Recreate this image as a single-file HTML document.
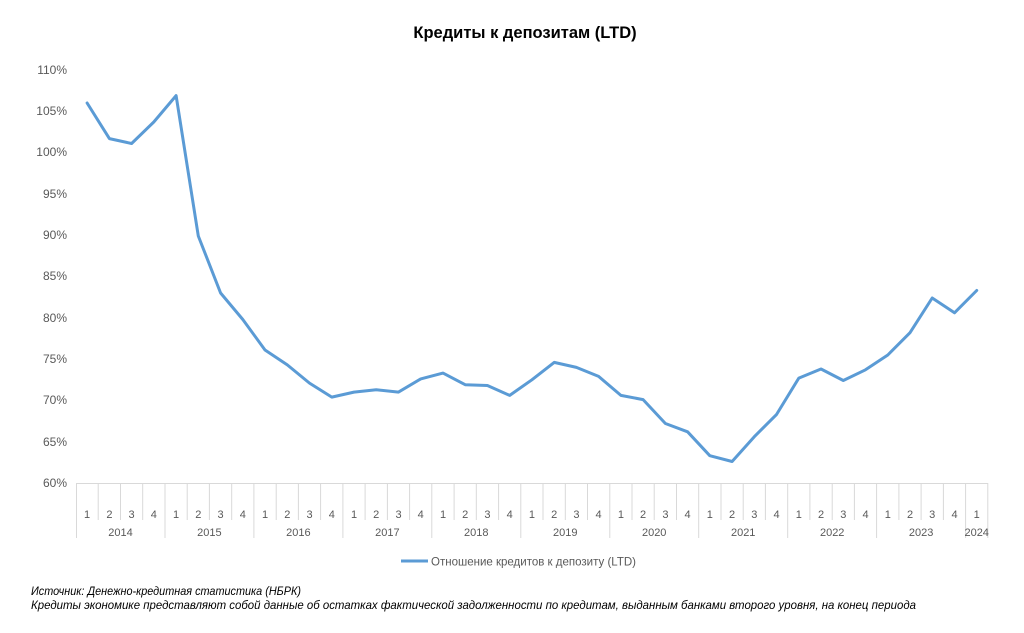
<!DOCTYPE html>
<html><head><meta charset="utf-8"><style>
body{margin:0;background:#fff;}
svg{display:block;font-family:"Liberation Sans",sans-serif;}
</style></head><body>
<svg width="1024" height="633" viewBox="0 0 1024 633">
<text x="525" y="38" text-anchor="middle" font-size="16.5" font-weight="bold" fill="#000">Кредиты к депозитам (LTD)</text>
<g font-size="12" fill="#595959" text-anchor="end">
<text x="67" y="74">110%</text><text x="67" y="115">105%</text><text x="67" y="156">100%</text>
<text x="67" y="198">95%</text><text x="67" y="239">90%</text><text x="67" y="280">85%</text>
<text x="67" y="322">80%</text><text x="67" y="363">75%</text><text x="67" y="404">70%</text>
<text x="67" y="446">65%</text><text x="67" y="487">60%</text>
</g>
<g stroke="#d9d9d9" stroke-width="1" fill="none">
<line x1="76" y1="483.5" x2="988" y2="483.5"/>
<path d="M98.2 483V520M120.5 483V520M142.7 483V520M187.2 483V520M209.4 483V520M231.7 483V520M276.2 483V520M298.4 483V520M320.6 483V520M365.1 483V520M387.4 483V520M409.6 483V520M454.1 483V520M476.3 483V520M498.6 483V520M543 483V520M565.3 483V520M587.5 483V520M632 483V520M654.2 483V520M676.5 483V520M721 483V520M743.2 483V520M765.4 483V520M809.9 483V520M832.2 483V520M854.4 483V520M898.9 483V520M921.1 483V520M943.4 483V520"/>
<path d="M76.5 483V538M165 483V538M253.9 483V538M342.9 483V538M431.8 483V538M520.8 483V538M609.8 483V538M698.7 483V538M787.7 483V538M876.6 483V538M965.6 483V538M987.8 483V538"/>
</g>
<g font-size="11" fill="#595959" text-anchor="middle">
<text x="87.1" y="518">1</text><text x="109.4" y="518">2</text><text x="131.6" y="518">3</text><text x="153.8" y="518">4</text>
<text x="176.1" y="518">1</text><text x="198.3" y="518">2</text><text x="220.6" y="518">3</text><text x="242.8" y="518">4</text>
<text x="265" y="518">1</text><text x="287.3" y="518">2</text><text x="309.5" y="518">3</text><text x="331.8" y="518">4</text>
<text x="354" y="518">1</text><text x="376.2" y="518">2</text><text x="398.5" y="518">3</text><text x="420.7" y="518">4</text>
<text x="443" y="518">1</text><text x="465.2" y="518">2</text><text x="487.4" y="518">3</text><text x="509.7" y="518">4</text>
<text x="531.9" y="518">1</text><text x="554.2" y="518">2</text><text x="576.4" y="518">3</text><text x="598.6" y="518">4</text>
<text x="620.9" y="518">1</text><text x="643.1" y="518">2</text><text x="665.4" y="518">3</text><text x="687.6" y="518">4</text>
<text x="709.8" y="518">1</text><text x="732.1" y="518">2</text><text x="754.3" y="518">3</text><text x="776.6" y="518">4</text>
<text x="798.8" y="518">1</text><text x="821" y="518">2</text><text x="843.3" y="518">3</text><text x="865.5" y="518">4</text>
<text x="887.8" y="518">1</text><text x="910" y="518">2</text><text x="932.2" y="518">3</text><text x="954.5" y="518">4</text>
<text x="976.7" y="518">1</text>
<text x="120.5" y="536">2014</text><text x="209.4" y="536">2015</text><text x="298.4" y="536">2016</text>
<text x="387.4" y="536">2017</text><text x="476.3" y="536">2018</text><text x="565.3" y="536">2019</text>
<text x="654.2" y="536">2020</text><text x="743.2" y="536">2021</text><text x="832.2" y="536">2022</text>
<text x="921.1" y="536">2023</text><text x="976.7" y="536">2024</text>
</g>
<polyline fill="none" stroke="#5b9bd5" stroke-width="3" stroke-linejoin="round" stroke-linecap="round"
points="87.1,103 109.4,138.6 131.6,143.5 153.8,122 176.1,95.6 198.3,236 220.6,293 242.8,319.5 265,350 287.3,364.9 309.5,383.1 331.8,397.1 354,392.1 376.2,389.7 398.5,392.1 420.7,378.9 443,373.1 465.2,384.7 487.4,385.5 509.7,395.4 531.9,379.8 554.2,362.4 576.4,367.4 598.6,376.4 620.9,395.4 643.1,399.6 665.4,423.5 687.6,431.8 709.8,455.7 732.1,461.5 754.3,436.7 776.6,414.4 798.8,378.1 821,369 843.3,380.5 865.5,369.8 887.8,355 910,332.7 932.2,298 954.5,312.8 976.7,290.5"/>
<line x1="401" y1="561" x2="428" y2="561" stroke="#5b9bd5" stroke-width="3"/>
<text x="431" y="565.5" font-size="12" fill="#595959" textLength="205" lengthAdjust="spacingAndGlyphs">Отношение кредитов к депозиту (LTD)</text>
<g font-size="12" font-style="italic" fill="#000">
<text x="31" y="595" textLength="270" lengthAdjust="spacingAndGlyphs">Источник: Денежно-кредитная статистика (НБРК)</text>
<text x="31" y="609" textLength="885" lengthAdjust="spacingAndGlyphs">Кредиты экономике представляют собой данные об остатках фактической задолженности по кредитам, выданным банками второго уровня, на конец периода</text>
</g>
</svg>
</body></html>
